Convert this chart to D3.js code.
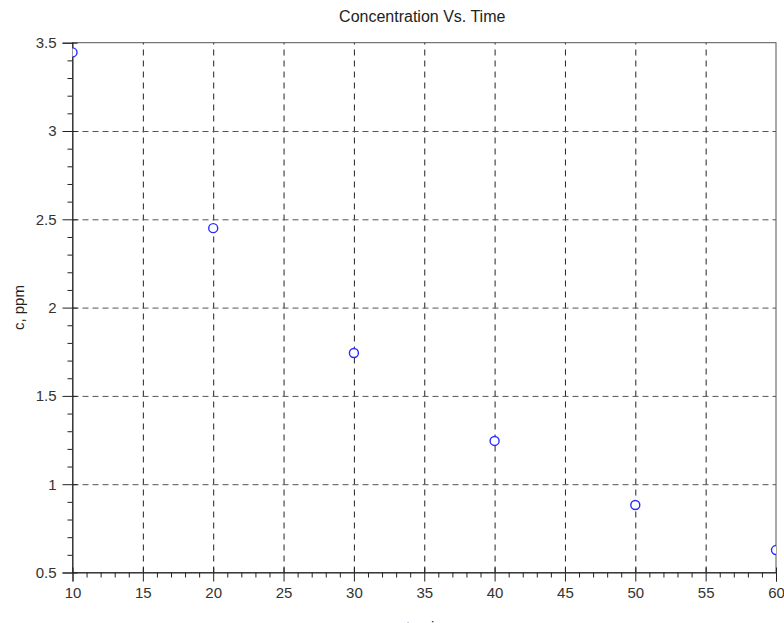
<!DOCTYPE html>
<html>
<head>
<meta charset="utf-8">
<script src="https://cdn.jsdelivr.net/npm/d3@7"></script>
<style>
  body { margin: 0; background: #fff; }
  svg { display: block; font-family: "Liberation Sans", Arial, sans-serif; }
  .tick text { fill: #333; }
</style>
</head>
<body>
<svg width="784" height="623"></svg>
<script>
// Data
var times = [10, 20, 30, 40, 50, 60]
  , concs = [3.445, 2.45, 1.743, 1.245, 0.882, 0.627]
  , xTicks = [10, 15, 20, 25, 30, 35, 40, 45, 50, 55, 60]
  , yTicks = [0.5, 1, 1.5, 2, 2.5, 3, 3.5]
;

var margin = { left: 72.5, right: 8, top: 42.7, bottom: 50.5 }
  , width = 784 - margin.left - margin.right
  , height = 623 - margin.top - margin.bottom
;

var svg = d3.select("svg")
  , g = svg.append("g").attr("transform", "translate(" + [margin.left, margin.top] + ")")
;

var x = d3.scaleLinear().domain([10, 60]).range([0, width])
  , y = d3.scaleLinear().domain([0.5, 3.5]).range([height, 0])
  , plain = function(d) { return String(d); }
;

// minor ticks: every 1 on x, every 0.1 on y
var xMinor = d3.range(10, 60.001, 1).filter(function(d) { return d % 5 !== 0; })
  , yMinor = d3.range(5, 35.001, 1).map(function(d) { return d / 10; })
      .filter(function(d) { return Math.round(d * 10) % 5 !== 0; })
;

// grid
g.append("g")
    .attr("transform", "translate(0," + height + ")")
    .call(d3.axisBottom(x).tickValues(xTicks.slice(1, -1)).tickSize(-height).tickFormat(""))
    .call(function(s) {
      s.select(".domain").remove();
      s.selectAll("line").attr("stroke", "#222").attr("stroke-dasharray", "6,5");
    });
g.append("g")
    .call(d3.axisLeft(y).tickValues(yTicks.slice(1, -1)).tickSize(-width).tickFormat(""))
    .call(function(s) {
      s.select(".domain").remove();
      s.selectAll("line").attr("stroke", "#555").attr("stroke-dasharray", "6,4");
    });

// box
g.append("rect")
    .attr("width", width).attr("height", height)
    .attr("fill", "none").attr("stroke", "#555").attr("stroke-width", 1);

// x axis
var xAxisG = g.append("g").attr("transform", "translate(0," + height + ")");
xAxisG.append("g")
    .call(d3.axisBottom(x).tickValues(xTicks).tickFormat(plain).tickSize(9).tickPadding(6))
    .call(function(s) {
      s.select(".domain").attr("stroke", "#222");
      s.selectAll("line").attr("stroke", "#222");
      s.selectAll("text").attr("font-size", 15).attr("font-family", "Liberation Sans, Arial, sans-serif");
    });
xAxisG.append("g")
    .call(d3.axisBottom(x).tickValues(xTicks).tickSize(-5).tickFormat(""))
    .call(function(s) { s.select(".domain").remove(); s.selectAll("line").attr("stroke", "#222"); });
xAxisG.append("g")
    .call(d3.axisBottom(x).tickValues(xMinor).tickSize(5).tickFormat(""))
    .call(function(s) { s.select(".domain").remove(); s.selectAll("line").attr("stroke", "#222"); });

// y axis
var yAxisG = g.append("g");
yAxisG.append("g")
    .call(d3.axisLeft(y).tickValues(yTicks).tickFormat(plain).tickSize(10).tickPadding(6))
    .call(function(s) {
      s.select(".domain").attr("stroke", "#222");
      s.selectAll("line").attr("stroke", "#222");
      s.selectAll("text").attr("font-size", 15).attr("font-family", "Liberation Sans, Arial, sans-serif");
    });
yAxisG.append("g")
    .call(d3.axisLeft(y).tickValues(yTicks).tickSize(-5).tickFormat(""))
    .call(function(s) { s.select(".domain").remove(); s.selectAll("line").attr("stroke", "#222"); });
yAxisG.append("g")
    .call(d3.axisLeft(y).tickValues(yMinor).tickSize(5).tickFormat(""))
    .call(function(s) { s.select(".domain").remove(); s.selectAll("line").attr("stroke", "#222"); });

// markers, clipped to the plot area
svg.append("defs").append("clipPath").attr("id", "plotclip")
  .append("rect").attr("width", width).attr("height", height);

g.append("g")
    .attr("clip-path", "url(#plotclip)")
  .selectAll("circle")
  .data(times.map(function(t, i) { return { t: t, c: concs[i] }; }))
  .enter().append("circle")
    .attr("cx", function(d) { return x(d.t); })
    .attr("cy", function(d) { return y(d.c); })
    .attr("r", 4.5)
    .attr("fill", "#fff")
    .attr("stroke", "#2a2aff")
    .attr("stroke-width", 1.4);

// labels
svg.append("text")
    .attr("x", margin.left + width / 2 - 2).attr("y", 22)
    .attr("text-anchor", "middle").attr("font-size", 16).attr("fill", "#222")
    .text("Concentration Vs. Time");

svg.append("text")
    .attr("transform", "translate(24," + (margin.top + height / 2) + ") rotate(-90)")
    .attr("text-anchor", "middle").attr("font-size", 15).attr("fill", "#222")
    .text("c, ppm");

svg.append("text")
    .attr("x", margin.left + width / 2).attr("y", 632)
    .attr("text-anchor", "middle").attr("font-size", 15).attr("fill", "#222")
    .text("t, min");
</script>
</body>
</html>
